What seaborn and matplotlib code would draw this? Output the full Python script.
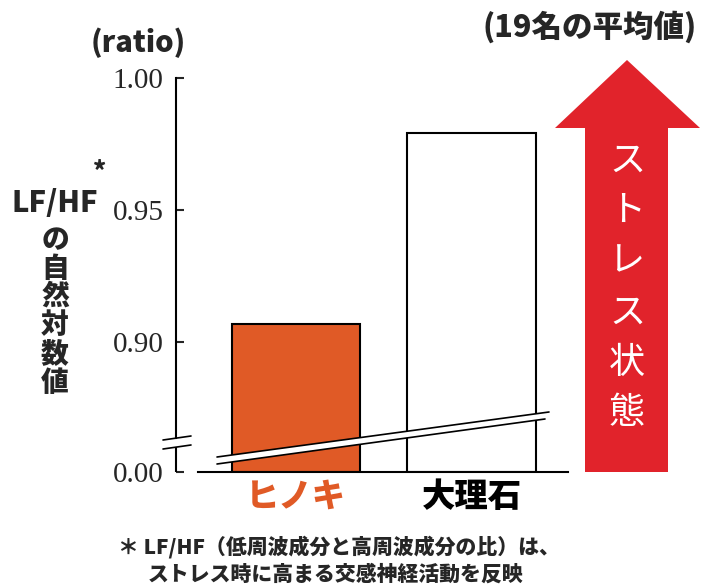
#!/usr/bin/env python
# coding: utf-8

# Libs
import numpy as np
import pandas as pd
import matplotlib
matplotlib.use('Agg')
import matplotlib.pyplot as plt
from matplotlib.patches import Polygon
from matplotlib.lines import Line2D
import seaborn as sns

# Data
materials = ['ヒノキ', '大理石']
lfhf_values = [0.907, 0.979]
bar_colors = ['#E05A26', '#FFFFFF']
label_colors = ['#E05A26', '#000000']
tick_values = [0.00, 0.90, 0.95, 1.00]
tick_labels = ['0.00', '0.90', '0.95', '1.00']

W, H = 707, 586
RED = '#E1232B'

sns.set_style('white')
plt.rcParams['font.family'] = ['Noto Sans CJK JP', 'DejaVu Sans']


def px(x, y):
    # pixel (from top-left) -> figure fraction
    return x / W, 1 - y / H


# broken y axis: 0 .. BRK squeezed, BRK .. 1.0 linear
BRK = 0.87
PX_PER_UNIT = 2640.0
GAP = 130 - (0.90 - BRK) * PX_PER_UNIT


def fwd(v):
    v = np.asarray(v, dtype=float)
    return np.where(v < BRK, v * GAP / BRK, GAP + (v - BRK) * PX_PER_UNIT)


def inv(u):
    u = np.asarray(u, dtype=float)
    return np.where(u < GAP, u * BRK / GAP, BRK + (u - GAP) / PX_PER_UNIT)


df = pd.DataFrame({'material': materials, 'value': lfhf_values})

fig = plt.figure(figsize=(W / 100, H / 100), dpi=100)
ax = fig.add_axes([176 / W, 1 - 472 / H, (568 - 176) / W, 394 / H])

sns.barplot(data=df, x='material', y='value', hue='material', palette=bar_colors,
            saturation=1, edgecolor='black', linewidth=1.5, width=0.73, legend=False, ax=ax)

ax.set_yscale('function', functions=(fwd, inv))
ax.set_ylim(0, 1.0)
ax.set_xlim(-0.684, 1.55)
ax.set_xlabel('')
ax.set_ylabel('')

ax.set_yticks(tick_values)
ax.set_yticklabels(tick_labels, fontfamily='Liberation Serif', fontsize=21)
ax.yaxis.set_minor_locator(matplotlib.ticker.NullLocator())
ax.tick_params(axis='y', direction='in', length=6, width=1.5, pad=9, left=True)

ax.set_xticks([0, 1])
ax.set_xticklabels(materials, fontsize=24, fontweight='heavy')
for lbl, c in zip(ax.get_xticklabels(), label_colors):
    lbl.set_color(c)
ax.tick_params(axis='x', length=0, pad=5)

for side in ['top', 'right']:
    ax.spines[side].set_visible(False)
for side in ['left', 'bottom']:
    ax.spines[side].set_linewidth(1.5)
    ax.spines[side].set_color('black')
ax.spines['bottom'].set_bounds(-0.558, 1.55)
ax.spines['left'].set_bounds(0.582, 1.0)
ax.plot([0, 0], [0, 0.428], color='black', lw=1.5, transform=ax.get_yaxis_transform(),
        clip_on=False, solid_capstyle='butt')

# break marks on the y axis
for y0, y1 in [(440, 436), (449, 445)]:
    fig.add_artist(Line2D([163 / W, 191 / W], [1 - y0 / H, 1 - y1 / H], color='black', lw=1.2))

# diagonal break band across the bars
band = Polygon([px(217, 457), px(549, 412), px(545, 419), px(217, 464)], closed=True,
               facecolor='white', edgecolor='none', transform=fig.transFigure, zorder=5)
fig.add_artist(band)
fig.add_artist(Line2D([217 / W, 549 / W], [1 - 457 / H, 1 - 412 / H], color='black', lw=1.2, zorder=6))
fig.add_artist(Line2D([217 / W, 545 / W], [1 - 464 / H, 1 - 419 / H], color='black', lw=1.2, zorder=6))

# red arrow
arrow = Polygon([px(585, 472), px(585, 128), px(555, 128), px(627, 60), px(700, 128),
                 px(668, 128), px(668, 472)], closed=True, facecolor=RED, edgecolor='none',
                transform=fig.transFigure)
fig.add_artist(arrow)
fig.text(*px(627, 287), '\n'.join('ストレス状態'), color='white', fontsize=26,
         ha='center', va='center', linespacing=1.52)

# texts
fig.text(*px(138, 43), '(ratio)', fontsize=21, fontweight='heavy', ha='center', va='center')
fig.text(*px(590, 27), '(19名の平均値)', fontsize=22, fontweight='heavy', ha='center', va='center')
fig.text(*px(55, 203), 'LF/HF', fontsize=21, fontweight='heavy', ha='center', va='center')
fig.text(*px(100, 171), '*', fontsize=18, fontweight='heavy', ha='center', va='center')
fig.text(*px(55, 311), '\n'.join('の自然対数値'), fontsize=20, fontweight='heavy',
         ha='center', va='center', linespacing=1.0)
fig.text(*px(118, 547), '＊ LF/HF（低周波成分と高周波成分の比）は、', fontsize=15,
         fontweight='heavy', ha='left', va='center')
fig.text(*px(148, 574), 'ストレス時に高まる交感神経活動を反映', fontsize=15,
         fontweight='heavy', ha='left', va='center')

fig.savefig('out.png', dpi=100)
